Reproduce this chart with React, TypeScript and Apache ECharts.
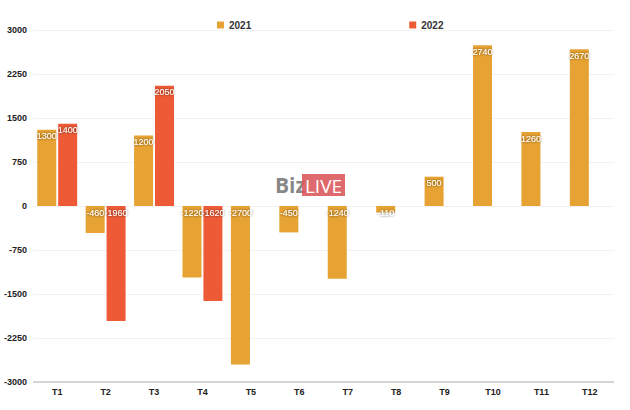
import React, { useEffect, useRef } from "react";
import * as echarts from "echarts";

const categories = ["T1", "T2", "T3", "T4", "T5", "T6", "T7", "T8", "T9", "T10", "T11", "T12"];
const series2021 = [1300, -460, 1200, -1220, -2700, -450, -1240, -110, 500, 2740, 1260, 2670];
const series2022: (number | null)[] = [1400, -1960, 2050, -1620, null, null, null, null, null, null, null, null];
const seriesNames = ["2021", "2022"];
const colors = ["#E6A232", "#EE5A35"];

export default function App() {
  const ref = useRef<HTMLDivElement>(null);
  useEffect(() => {
    if (!ref.current) return;
    const chart = echarts.init(ref.current, null, { renderer: "svg" });
    const labelCfg = {
      show: true,
      position: "insideTop",
      distance: 2,
      color: "#fff",
      fontSize: 9,
      fontFamily: "Liberation Sans, Arial, sans-serif",
      textShadowColor: "rgba(0,0,0,0.7)",
      textShadowBlur: 2,
    };
    chart.setOption({
      animation: false,
      backgroundColor: "#fff",
      textStyle: { fontFamily: "Liberation Sans, Arial, sans-serif" },
      legend: {
        top: 15,
        left: 212,
        itemGap: 158,
        icon: "rect",
        itemWidth: 7,
        itemHeight: 7,
        textStyle: { fontSize: 10, fontWeight: "bold", color: "#333" },
        data: seriesNames,
      },
      grid: { left: 33, right: 16, top: 30, bottom: 28, containLabel: false },
      xAxis: {
        type: "category",
        data: categories,
        axisLine: { show: false },
        axisTick: { show: false },
        axisLabel: { fontSize: 9, fontWeight: "bold", color: "#222", margin: 5 },
      },
      yAxis: {
        type: "value",
        min: -3000,
        max: 3000,
        interval: 750,
        axisLine: { show: false },
        axisTick: { show: false },
        axisLabel: {
          fontSize: 9,
          fontWeight: "bold",
          color: "#222",
          margin: 6,
          formatter: (v: number) => String(v),
        },
        splitLine: {
          lineStyle: { color: "#f2f2f2", width: 1 },
        },
      },
      graphic: [
        {
          type: "line",
          shape: { x1: 33, y1: 382, x2: 614, y2: 382 },
          style: { stroke: "#c8c8c8", lineWidth: 1.5 },
          z: 10,
        },
        {
          type: "group",
          left: 275,
          top: 174,
          z: 0,
          children: [
            {
              type: "text",
              x: 0,
              y: 11,
              style: {
                text: "Biz",
                fill: "#777777",
                font: "bold 21px 'Open Sans', sans-serif",
                textVerticalAlign: "middle",
                opacity: 0.9,
              },
            },
            {
              type: "rect",
              shape: { x: 27, y: 0, width: 43, height: 22 },
              style: { fill: "#DC5A5E", opacity: 0.9 },
            },
            {
              type: "text",
              x: 48.5,
              y: 11.5,
              style: {
                text: "LIVE",
                fill: "#fff",
                font: "19px 'Open Sans', sans-serif",
                textAlign: "center",
                textVerticalAlign: "middle",
              },
            },
          ],
        },
      ],
      series: [
        {
          name: seriesNames[0],
          type: "bar",
          data: series2021,
          barWidth: 19,
          barGap: "10%",
          itemStyle: { color: colors[0] },
          label: labelCfg,
          z: 3,
        },
        {
          name: seriesNames[1],
          type: "bar",
          data: series2022,
          barWidth: 19,
          barGap: "10%",
          itemStyle: { color: colors[1] },
          label: labelCfg,
          z: 3,
        },
      ],
    });
    return () => chart.dispose();
  }, []);
  return (
    <div
      ref={ref}
      style={{ position: "fixed", left: 0, top: 0, width: 630, height: 410 }}
    />
  );
}
